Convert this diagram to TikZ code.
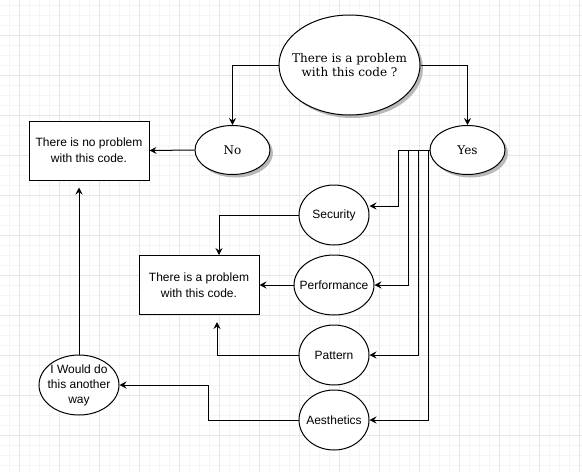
\documentclass[tikz,border=0pt]{standalone}
\usepackage{fontspec}
\setmainfont{DejaVu Serif}
\setsansfont{Liberation Sans}
\usetikzlibrary{shapes.geometric,arrows.meta,shadows}
\definecolor{gridmajor}{HTML}{E6E6E6}
\definecolor{gridminor}{HTML}{F5F5F5}
\definecolor{shadowgray}{HTML}{A8A8A8}
\tikzset{
  base/.style={draw=black, line width=1pt, fill=white, inner sep=0pt, align=center, text=black},
  shad/.style={drop shadow={shadow xshift=3pt, shadow yshift=-3pt, fill=shadowgray, opacity=0.8}},
  serifell/.style={base, ellipse, label={[font=\rmfamily\fontsize{12}{14}\selectfont, align=center, inner sep=0pt]center:#1}},
  sansell/.style={base, ellipse, label={[font=\sffamily\fontsize{12}{15}\selectfont, align=center, inner sep=0pt]center:#1}},
  box/.style={base, rectangle, minimum width=120pt, minimum height=59pt, font=\sffamily\fontsize{12}{16}\selectfont},
  conn/.style={line width=1pt, -{Stealth[length=7pt,width=7pt,inset=2.5pt]}},
}
\begin{document}
\begin{tikzpicture}[x=1pt,y=-1pt]
\useasboundingbox (0,0) rectangle (582,472);
% grid
\foreach \x in {-1,9,...,581} \draw[gridminor, line width=0.8pt] (\x,0) -- (\x,472);
\foreach \y in {5,15,...,471} \draw[gridminor, line width=0.8pt] (0,\y) -- (582,\y);
\foreach \x in {19,59,...,579} \draw[gridmajor, line width=1pt] (\x,0) -- (\x,472);
\foreach \y in {35,75,...,471} \draw[gridmajor, line width=1pt] (0,\y) -- (582,\y);
% nodes
\node[serifell={There is a problem\\with this code ?}, shad, minimum width=141pt, minimum height=100pt] (top) at (349.5,65) {};
\node[serifell={No}, shad, minimum width=75pt, minimum height=49pt] (no) at (232.5,150) {};
\node[serifell={Yes}, shad, minimum width=75pt, minimum height=49pt] (yes) at (467.5,150) {};
\node[box] (noprob) at (89,150.5) {There is no problem\\with this code.};
\node[box] (prob) at (199,285) {There is a problem\\with this code.};
\node[sansell={Security}, minimum width=70pt, minimum height=60pt] (sec) at (334,215) {};
\node[sansell={Performance}, minimum width=80pt, minimum height=60pt] (perf) at (334,285) {};
\node[sansell={Pattern}, minimum width=70pt, minimum height=60pt] (pat) at (334,355) {};
\node[sansell={Aesthetics}, minimum width=70pt, minimum height=60pt] (aes) at (334,420) {};
\node[sansell={I Would do\\this another\\way}, minimum width=80pt, minimum height=60pt] (iw) at (79,385) {};
% connectors
\draw[conn] (top.west) -| (no.north);
\draw[conn] (top.east) -| (yes.north);
\draw[conn] (no.west) -- (noprob.east);
\draw[conn] (yes.west) -- ++(-31,0) |- ([yshift=9pt]sec.east);
\draw[conn] (yes.west) -- ++(-21,0) |- (perf.east);
\draw[conn] (yes.west) -- ++(-11,0) |- (pat.east);
\draw[conn] (yes.west) -- ++(-1,0) |- (aes.east);
\draw[conn] (sec.west) -| ([xshift=20pt]prob.north);
\draw[conn] (perf.west) -- (prob.east);
\draw[conn, shorten >=7pt] (pat.west) -| ([xshift=18pt]prob.south);
\draw[conn] (aes.west) -- ++(-90,0) |- (iw.east);
\draw[conn, shorten >=7pt] (iw.north) -- (iw.north |- noprob.south);
\end{tikzpicture}
\end{document}
